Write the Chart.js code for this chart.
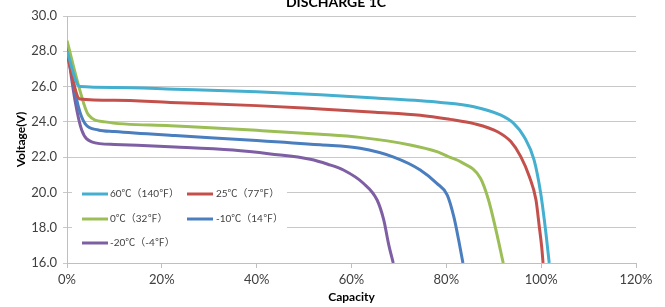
<!DOCTYPE html>
<html>
<head>
<meta charset="utf-8">
<script src="https://cdn.jsdelivr.net/npm/chart.js@4.4.1/dist/chart.umd.min.js"></script>
<style>
  html, body { margin: 0; padding: 0; background: #fff; }
</style>
</head>
<body>
<canvas id="dischargeChart" width="665" height="307"></canvas>
<script>
// series labels
var seriesNames = ["60℃（140℉）", "25℃（77℉）", "0℃（32℉）", "-10℃（14℉）", "-20℃（-4℉）"];
var seriesColors = ["#45AFD0", "#C4504C", "#9BBE56", "#4A7EBE", "#7E5FA4"];

// capacity (%) / voltage (V)
var cap60 = [0, 2.7, 10, 22.8, 40, 53.4, 65, 78.8, 85.8, 91.4, 94.3, 96.4, 98.5, 99.9, 101, 101.7];
var volt60 = [28.0, 26.0, 25.95, 25.85, 25.7, 25.53, 25.35, 25.1, 24.86, 24.39, 23.89, 23.16, 21.84, 19.95, 17.7, 16.0];

var cap25 = [0, 2.7, 10, 21.8, 40, 53.4, 65, 74.5, 80.8, 85.8, 90.8, 93.6, 95.7, 97.5, 98.9, 99.6, 100.1, 100.4];
var volt25 = [27.8, 25.3, 25.22, 25.1, 24.92, 24.73, 24.55, 24.38, 24.14, 23.9, 23.44, 22.88, 22.03, 20.9, 19.58, 18.07, 16.94, 16.0];

var cap0 = [0, 2.7, 4.5, 8, 21.8, 40, 53.4, 61.8, 72.4, 78, 80.8, 83, 87.2, 88.9, 90.3, 92];
var volt0 = [28.6, 25.8, 24.4, 24.0, 23.78, 23.52, 23.3, 23.12, 22.69, 22.31, 21.99, 21.74, 20.8, 19.57, 18.06, 16.0];

var capM10 = [0, 2.4, 3.8, 6.6, 10, 22.8, 40, 53.4, 61.8, 68.9, 74.5, 78, 80.2, 81.6, 82.6, 83.5];
var voltM10 = [28.2, 24.86, 23.9, 23.54, 23.45, 23.22, 22.95, 22.7, 22.5, 22.0, 21.27, 20.51, 19.85, 18.6, 17.3, 16.0];

var capM20 = [0, 1.7, 3.1, 5.2, 10, 22.8, 35, 42.9, 51.3, 55, 58.3, 62.5, 65.4, 66.8, 67.8, 68.8];
var voltM20 = [28.3, 25.2, 23.54, 22.87, 22.72, 22.58, 22.4, 22.18, 21.88, 21.6, 21.27, 20.52, 19.57, 18.44, 17.1, 16.0];

var capList = [cap60, cap25, cap0, capM10, capM20];
var voltList = [volt60, volt25, volt0, voltM10, voltM20];

var tickFont = { family: "Lato, 'Liberation Sans', sans-serif", size: 13 };
var titleFont = { family: "Lato, 'Liberation Sans', sans-serif", size: 12, weight: "bold" };

function toPoints(xs, ys) {
  return xs.map(function (x, i) { return { x: x, y: ys[i] }; });
}

var datasets = seriesNames.map(function (name, i) {
  return {
    label: name,
    data: toPoints(capList[i], voltList[i]),
    borderColor: seriesColors[i],
    backgroundColor: seriesColors[i],
    borderWidth: 3,
    pointRadius: 0,
    fill: false,
    cubicInterpolationMode: "monotone"
  };
});

// title + legend box drawn on the canvas
var extrasPlugin = {
  id: "extras",
  afterDraw: function (chart) {
    var ctx = chart.ctx;
    ctx.save();
    ctx.fillStyle = "#000";
    ctx.font = "bold 14px Lato, 'Liberation Sans', sans-serif";
    ctx.textAlign = "center";
    ctx.textBaseline = "alphabetic";
    ctx.fillText("DISCHARGE 1C", 336, 7);

    // legend
    ctx.fillStyle = "#fff";
    ctx.fillRect(72, 178, 215, 80);
    var rows = [194, 219, 243];
    var cols = [[82, 110], [187, 216]];
    ctx.font = "10px Lato, 'Noto Sans CJK SC', sans-serif";
    ctx.textAlign = "left";
    ctx.textBaseline = "middle";
    seriesNames.forEach(function (name, i) {
      var r = rows[Math.floor(i / 2)];
      var c = cols[i % 2];
      ctx.strokeStyle = seriesColors[i];
      ctx.lineWidth = 3;
      ctx.beginPath();
      ctx.moveTo(c[0], r);
      ctx.lineTo(c[0] + 26, r);
      ctx.stroke();
      ctx.fillStyle = "#404040";
      ctx.fillText(name, c[1], r);
    });
    ctx.restore();
  }
};

var chart = new Chart(document.getElementById("dischargeChart").getContext("2d"), {
  type: "line",
  data: { datasets: datasets },
  options: {
    responsive: false,
    animation: false,
    layout: { padding: { top: 16, right: 29, left: 0, bottom: 0 } },
    plugins: {
      legend: { display: false },
      tooltip: { enabled: false }
    },
    scales: {
      x: {
        type: "linear",
        min: 0,
        max: 120,
        ticks: {
          stepSize: 20,
          color: "#404040",
          font: tickFont,
          padding: 4,
          callback: function (v) { return v + "%"; }
        },
        grid: { drawOnChartArea: false, drawTicks: true, tickLength: 5, color: "#BFBFBF" },
        border: { color: "#BFBFBF" },
        title: { display: true, text: "Capacity", color: "#000", font: titleFont, padding: { top: 2, bottom: 3 } },
        afterFit: function (scale) { scale.height = 44; }
      },
      y: {
        min: 16,
        max: 30,
        ticks: {
          stepSize: 2,
          color: "#404040",
          font: tickFont,
          padding: 6,
          callback: function (v) { return v.toFixed(1); }
        },
        grid: { color: "#C8C8C8", tickLength: 4 },
        border: { color: "#BFBFBF" },
        title: { display: true, text: "Voltage(V)", color: "#000", font: titleFont, padding: { top: 14, bottom: 0 } },
        afterFit: function (scale) { scale.width = 67; }
      }
    }
  },
  plugins: [extrasPlugin]
});
</script>
</body>
</html>
